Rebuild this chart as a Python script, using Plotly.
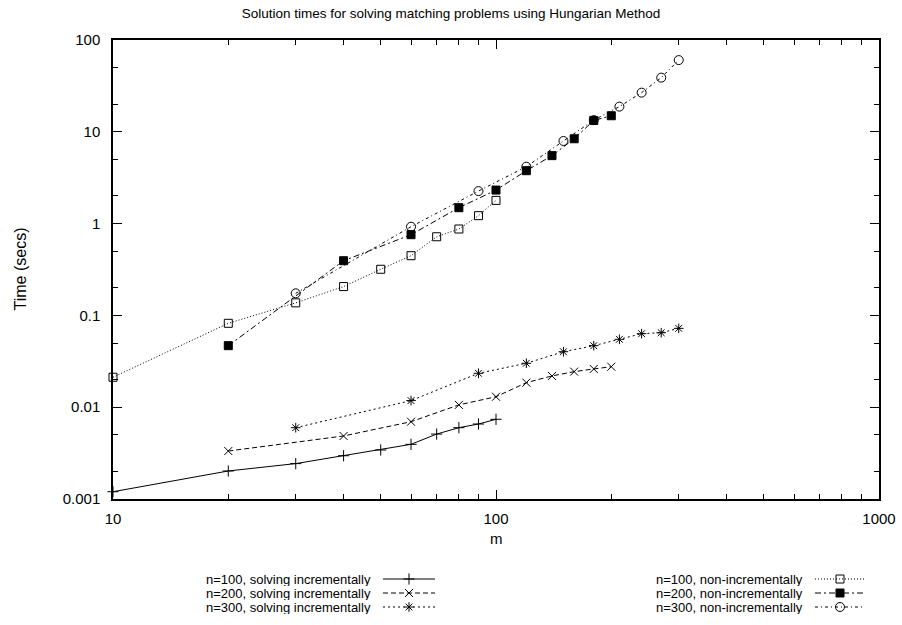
import plotly.graph_objects as go

# ---------------- data ----------------
m_inc_100 = [10, 20, 30, 40, 50, 60, 70, 80, 90, 100]
t_inc_100 = [0.0012, 0.00202, 0.00243, 0.00296, 0.00342, 0.00394, 0.0051, 0.00598, 0.00656, 0.00738]

m_inc_200 = [20, 40, 60, 80, 100, 120, 140, 160, 180, 200]
t_inc_200 = [0.00333, 0.00486, 0.00695, 0.0106, 0.0130, 0.0185, 0.0219, 0.0244, 0.0261, 0.0276]

m_inc_300 = [30, 60, 90, 120, 150, 180, 210, 240, 270, 300]
t_inc_300 = [0.00598, 0.0118, 0.0234, 0.0301, 0.0402, 0.0468, 0.0549, 0.0632, 0.0648, 0.0723]

m_non_100 = [10, 20, 30, 40, 50, 60, 70, 80, 90, 100]
t_non_100 = [0.0212, 0.082, 0.137, 0.206, 0.318, 0.447, 0.719, 0.873, 1.22, 1.79]

m_non_200 = [20, 40, 60, 80, 100, 120, 140, 160, 180, 200]
t_non_200 = [0.0468, 0.394, 0.757, 1.49, 2.32, 3.77, 5.5, 8.4, 13.3, 14.96]

m_non_300 = [30, 60, 90, 120, 150, 180, 210, 240, 270, 300]
t_non_300 = [0.174, 0.925, 2.26, 4.17, 7.94, 13.4, 18.8, 26.7, 38.9, 60.4]

series_names = [
    "n=100, solving incrementally",
    "n=200, solving incrementally",
    "n=300, solving incrementally",
    "n=100, non-incrementally",
    "n=200, non-incrementally",
    "n=300, non-incrementally",
]

x_tick_vals = [10, 100, 1000]
x_tick_text = ["10", "100", "1000"]
y_tick_vals = [0.001, 0.01, 0.1, 1, 10, 100]
y_tick_text = ["0.001", "0.01", "0.1", "1", "10", "100"]

# ---------------- styles ----------------
W, H = 902, 625
PL, PR, PT, PB = 113, 879, 40, 499  # plot box in pixels
FONT = "Liberation Sans, Arial, sans-serif"
KEY_TXT = 13
TICK_TXT = 15

styles = [
    dict(dash="solid", symbol="cross-thin", size=8),
    dict(dash="5px,3px", symbol="x-thin", size=8),
    dict(dash="2px,3px", symbol="asterisk-open", size=8),
    dict(dash="1px,2px", symbol="square-open", size=8),
    dict(dash="6px,3px,2px,3px", symbol="square", size=8),
    dict(dash="3px,3px,1px,3px", symbol="circle-open", size=9),
]

data = [
    (m_inc_100, t_inc_100),
    (m_inc_200, t_inc_200),
    (m_inc_300, t_inc_300),
    (m_non_100, t_non_100),
    (m_non_200, t_non_200),
    (m_non_300, t_non_300),
]

fig = go.Figure()
for (xs, ys), st, name in zip(data, styles, series_names):
    fig.add_trace(go.Scatter(
        x=xs, y=ys, mode="lines+markers", name=name, showlegend=False,
        line=dict(color="black", width=1, dash=st["dash"]),
        marker=dict(symbol=st["symbol"], size=st["size"], color="black",
                    line=dict(color="black", width=1)),
        xaxis="x", yaxis="y", cliponaxis=False,
    ))

# ---------------- gnuplot-style key (text then sample) ----------------
key_rows_y = [579, 593, 607]
key_cols = [  # text right edge, sample start, sample end
    (373, 383, 435),
    (805, 815, 865),
]
for i, (name, st) in enumerate(zip(series_names, styles)):
    col = key_cols[i // 3]
    ry = key_rows_y[i % 3]
    fig.add_trace(go.Scatter(
        x=[col[1], col[2]], y=[ry, ry], mode="lines", showlegend=False,
        line=dict(color="black", width=1, dash=st["dash"]),
        xaxis="x2", yaxis="y2", hoverinfo="skip",
    ))
    fig.add_trace(go.Scatter(
        x=[(col[1] + col[2]) / 2], y=[ry], mode="markers", showlegend=False,
        marker=dict(symbol=st["symbol"], size=st["size"], color="black",
                    line=dict(color="black", width=1)),
        xaxis="x2", yaxis="y2", hoverinfo="skip",
    ))
    fig.add_annotation(
        x=col[0], y=ry, xref="x2", yref="y2", text=name, showarrow=False,
        xanchor="right", yanchor="middle", height=14, valign="middle",
        font=dict(family=FONT, size=KEY_TXT, color="black"),
    )

# axis titles
fig.add_annotation(x=(PL + PR) / 2, y=538, xref="x2", yref="y2", text="m", showarrow=False,
                   xanchor="center", yanchor="middle", font=dict(family=FONT, size=TICK_TXT, color="black"))
fig.add_annotation(x=20, y=(PT + PB) / 2, xref="x2", yref="y2", text="Time (secs)", showarrow=False,
                   textangle=-90, xanchor="center", yanchor="middle",
                   font=dict(family=FONT, size=16, color="black"))

axis_common = dict(
    showgrid=False, zeroline=False, showline=True, linecolor="black", linewidth=1.5,
    mirror="ticks", ticks="inside", ticklen=9, tickwidth=1, tickcolor="black",
    tickfont=dict(family=FONT, size=TICK_TXT, color="black"), automargin=False,
)

fig.update_layout(
    width=W, height=H,
    margin=dict(l=0, r=0, t=0, b=0, autoexpand=False),
    paper_bgcolor="white", plot_bgcolor="rgba(0,0,0,0)",
    title=dict(text="Solution times for solving matching problems using Hungarian Method",
               x=0.5, xanchor="center", y=1 - 13 / H, yanchor="middle", yref="container",
               font=dict(family=FONT, size=13.5, color="black")),
    xaxis=dict(
        type="log", range=[1, 3], domain=[PL / W, PR / W],
        tickmode="array", tickvals=x_tick_vals, ticktext=x_tick_text, ticklabelstandoff=5,
        minor=dict(ticks="inside", ticklen=5, tickcolor="black", tickwidth=1,
                   tickmode="array",
                   tickvals=[k * 10 ** e for e in (1, 2) for k in range(2, 10)]),
        anchor="y", **axis_common,
    ),
    yaxis=dict(
        type="log", range=[-3, 2], domain=[1 - PB / H, 1 - PT / H],
        tickmode="array", tickvals=y_tick_vals, ticktext=y_tick_text, ticklabelstandoff=8,
        minor=dict(ticks="inside", ticklen=5, tickcolor="black", tickwidth=1,
                   tickmode="array",
                   tickvals=[k * 10.0 ** e for e in (-3, -2, -1, 0, 1) for k in (2, 5)]),
        anchor="x", **axis_common,
    ),
    xaxis2=dict(range=[0, W], domain=[0, 1], visible=False, anchor="y2", fixedrange=True, automargin=False),
    yaxis2=dict(range=[H, 0], domain=[0, 1], visible=False, anchor="x2", fixedrange=True, automargin=False),
)

fig.write_html("out.html")
